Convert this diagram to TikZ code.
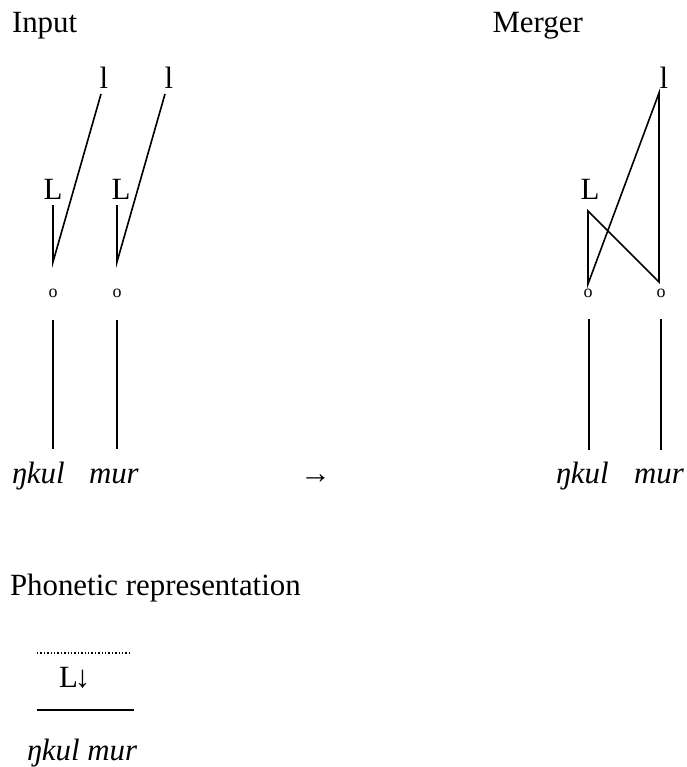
\documentclass[tikz,border=0pt]{standalone}
\usepackage{fontspec}
\setmainfont{Liberation Serif}
\begin{document}
\begin{tikzpicture}[x=1bp,y=-1bp,
  txt/.style={inner sep=0pt,outer sep=0pt,font=\fontsize{31}{36}\selectfont},
  itxt/.style={txt,font=\fontsize{31}{36}\selectfont\itshape},
  small/.style={inner sep=0pt,outer sep=0pt,font=\fontsize{18}{20}\selectfont},
  assoc/.style={line width=1.6bp,line cap=butt},
  dotline/.style={line width=1.8bp,dash pattern=on 1.4bp off 2.0bp}]
\useasboundingbox (0,0) rectangle (687,767);
% headings
\node[txt,anchor=base west] (input) at (12,33) {Input};
\node[txt,anchor=base west] (merger) at (492.5,33) {Merger};
% ---- Input ----
\node[txt,anchor=base] (l1) at (104,88) {l};
\node[txt,anchor=base] (l2) at (169,88) {l};
\node[txt,anchor=base] (L1) at (53,199) {L};
\node[txt,anchor=base] (L2) at (121,199) {L};
\node[small,anchor=base] (o1) at (53,297) {o};
\node[small,anchor=base] (o2) at (117,297) {o};
\coordinate (l1b) at (101,94);
\coordinate (l2b) at (165,94);
\coordinate (L1b) at (53,205);
\coordinate (L2b) at (117,205);
\coordinate (o1t) at (53,262);
\coordinate (o2t) at (117,262);
\draw[assoc] (l1b) -- (o1t) -- (L1b);
\draw[assoc] (l2b) -- (o2t) -- (L2b);
\coordinate (o1b) at (53,320);
\coordinate (o2b) at (117,320);
\coordinate (w1t) at (53,449);
\coordinate (w2t) at (117,449);
\draw[assoc] (o1b) -- (w1t);
\draw[assoc] (o2b) -- (w2t);
\node[itxt,anchor=base west] (w1) at (12,483) {ŋkul};
\node[itxt,anchor=base west] (w2) at (89,483) {mur};
% arrow
\node[txt,anchor=base west] (arr) at (300,483) {→};
% ---- Merger ----
\node[txt,anchor=base] (l3) at (664,88) {l};
\node[txt,anchor=base] (L3) at (590,199) {L};
\node[small,anchor=base] (o3) at (588,297) {o};
\node[small,anchor=base] (o4) at (661,297) {o};
\coordinate (l3b) at (659,93);
\coordinate (L3b) at (588,211);
\coordinate (o3t) at (588,284);
\coordinate (o4t) at (659,282);
\draw[assoc] (l3b) -- (o4t) -- (L3b) -- (o3t) -- cycle;
\coordinate (o3b) at (589,319);
\coordinate (o4b) at (661,319);
\coordinate (w3t) at (589,450);
\coordinate (w4t) at (661,450);
\draw[assoc] (o3b) -- (w3t);
\draw[assoc] (o4b) -- (w4t);
\node[itxt,anchor=base west] (w3) at (556,483) {ŋkul};
\node[itxt,anchor=base west] (w4) at (634,483) {mur};
% ---- Phonetic representation ----
\node[txt,anchor=base west] (phon) at (10,595) {Phonetic representation};
\coordinate (d1) at (37,653);
\coordinate (d2) at (131,653);
\draw[dotline] (d1) -- (d2);
\node[txt,anchor=base west] (Ldown) at (59,687) {L\kern-3bp↓};
\coordinate (s1) at (37,710);
\coordinate (s2) at (134,710);
\draw[assoc] (s1) -- (s2);
\node[itxt,anchor=base west] (w5) at (27,760) {ŋkul mur};
\end{tikzpicture}
\end{document}
